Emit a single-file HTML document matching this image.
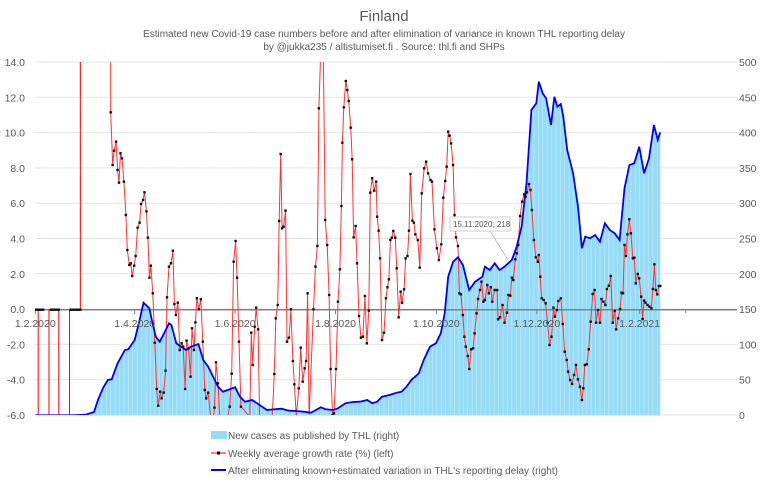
<!DOCTYPE html>
<html><head><meta charset="utf-8"><style>
html,body{margin:0;padding:0;background:#fff;}
body{width:768px;height:483px;overflow:hidden;font-family:"Liberation Sans",sans-serif;}
</style></head><body>
<svg id="s" width="768" height="483" xmlns="http://www.w3.org/2000/svg" font-family="Liberation Sans, sans-serif">
<rect x="0" y="0" width="768" height="483" fill="#fff"/>
<text x="384" y="21" text-anchor="middle" font-size="15" fill="#595959">Finland</text>
<text x="384" y="37" text-anchor="middle" font-size="10" fill="#595959">Estimated new Covid-19 case numbers before and after elimination  of variance in  known THL reporting delay</text>
<text x="384" y="50" text-anchor="middle" font-size="10" fill="#595959">by @jukka235 / altistumiset.fi . Source: thl.fi and SHPs</text>
<g id="grid"></g>
<g id="bars"></g>
<g id="lines"></g>
<g id="labels" font-size="10.5" fill="#595959"></g>
<g font-size="10" fill="#595959">
<rect x="211" y="431" width="16" height="8" fill="#97dcf7"/>
<text x="228" y="439">New cases as published by THL (right)</text>
<line x1="211" y1="453" x2="226" y2="453" stroke="#f00" stroke-width="1"/>
<rect x="217" y="451.5" width="3" height="3" fill="#000"/>
<text x="228" y="457">Weekly average growth rate (%) (left)</text>
<line x1="211" y1="470" x2="226" y2="470" stroke="#00f" stroke-width="2"/>
<text x="228" y="474">After eliminating known+estimated variation in THL's reporting delay (right)</text>
</g>
<line x1="490" y1="231" x2="508" y2="260" stroke="#aaa" stroke-width="0.7"/>
<rect x="450" y="217" width="60" height="14" fill="#fff" stroke="#bbb" stroke-width="0.7"/>
<text x="453" y="227" font-size="8" fill="#595959">15.11.2020;  218</text>
</svg>
<script>
var NS="http://www.w3.org/2000/svg";
function el(p,t,a){var e=document.createElementNS(NS,t);for(var k in a)e.setAttribute(k,a[k]);document.getElementById(p).appendChild(e);return e;}
var sx=768/1568, sy=1/3;
function X(x){return x*sx;} function Y(y){return y*sy;}
for(var i=0;i<=10;i++){var y=62+i*35.3;el("grid","line",{x1:35,x2:737,y1:y,y2:y,stroke:"#e3e3e3","stroke-width":1});}
var L=["14.0","12.0","10.0","8.0","6.0","4.0","2.0","0.0","-2.0","-4.0","-6.0"];
var R=["500","450","400","350","300","250","200","150","100","50","0"];
for(var i=0;i<=10;i++){var y=62+i*35.3+4;
 el("labels","text",{x:25,y:y,"text-anchor":"end"}).textContent=L[i];
 el("labels","text",{x:739,y:y}).textContent=R[i];}
var months=[["1.2.2020",72],["1.4.2020",275],["1.6.2020",480],["1.8.2020",685],["1.10.2020",891],["1.12.2020",1096],["1.2.2021",1306]];
months.forEach(function(m){el("labels","text",{x:X(m[1]),y:327,"text-anchor":"middle"}).textContent=m[0];});
var blue=[[72,1246],[150,1246],[175,1244],[192,1236],[200,1200],[210,1165],[220,1140],[228,1138],[240,1090],[255,1050],[262,1048],[275,1020],[285,960],[293,908],[300,918],[305,925],[310,960],[318,1010],[326,1025],[335,1000],[345,970],[350,975],[360,1030],[370,1040],[380,1050],[390,1040],[405,1032],[415,1080],[425,1100],[435,1130],[445,1160],[455,1175],[465,1170],[480,1162],[490,1190],[500,1205],[515,1200],[530,1215],[545,1230],[560,1228],[575,1226],[590,1232],[605,1233],[620,1235],[635,1238],[645,1230],[655,1222],[665,1228],[680,1230],[690,1225],[705,1210],[720,1206],[735,1205],[750,1200],[760,1210],[770,1205],[780,1190],[795,1185],[810,1178],[820,1175],[830,1160],[840,1140],[855,1120],[865,1080],[878,1040],[890,1030],[900,1000],[908,940],[915,830],[925,785],[935,772],[945,795],[958,870],[970,845],[985,830],[990,800],[1000,810],[1010,790],[1020,810],[1030,800],[1045,780],[1055,740],[1065,680],[1075,550],[1085,330],[1095,310],[1100,245],[1108,280],[1115,295],[1125,375],[1132,290],[1138,320],[1145,312],[1150,350],[1158,450],[1170,520],[1180,620],[1188,745],[1195,710],[1205,715],[1215,705],[1225,725],[1235,670],[1245,690],[1255,700],[1265,720],[1275,565],[1285,495],[1295,490],[1305,440],[1315,520],[1325,475],[1335,375],[1343,420],[1348,397]];
var bp=blue.map(function(p){return X(p[0]).toFixed(1)+","+Y(p[1]).toFixed(1);}).join(" ");
el("bars","polygon",{points:X(72)+","+Y(1246)+" "+bp+" "+X(1348)+","+Y(1246),fill:"#97dcf7"});
for(var x=100;x<1348;x+=9){el("bars","line",{x1:X(x),x2:X(x),y1:62,y2:415,stroke:"#fff","stroke-width":0.5,opacity:0.5});}
el("lines","line",{x1:35,x2:737,y1:309.7,y2:309.7,stroke:"#808080","stroke-width":1.5});
months.forEach(function(m){el("lines","line",{x1:X(m[1]),x2:X(m[1]),y1:309,y2:314,stroke:"#808080"});});
el("lines","line",{x1:X(1400),x2:X(1400),y1:309,y2:313,stroke:"#808080"});
var cp=el("lines","clipPath",{id:"c"});var r=document.createElementNS(NS,"rect");r.setAttribute("x",35);r.setAttribute("y",62);r.setAttribute("width",702);r.setAttribute("height",353);cp.appendChild(r);
var red=[[226,187],[226,337],[230,495],[233,452],[237,425],[240,510],[243,548],[246,460],[249,475],[253,545],[257,645],[260,750],[264,795],[267,790],[270,828],[274,797],[277,768],[281,683],[285,668],[288,612],[292,600],[295,577],[299,634],[302,713],[305,833],[308,797],[312,880],[316,1028],[320,1167],[323,1217],[327,1175],[330,1195],[334,1178],[338,1112],[341,892],[345,800],[349,790],[353,752],[356,912],[359,945],[363,908],[367,1050],[371,1030],[374,1040],[378,1167],[381,1022],[385,1045],[389,1130],[392,985],[396,1050],[399,967],[402,895],[406,928],[410,898],[414,1025],[418,1170],[421,1195],[425,1178],[430,1250],[435,1260],[438,1223],[441,1087],[445,1150],[449,1260],[465,1250],[469,1220],[473,1121],[477,785],[481,723],[484,833],[488,1025],[492,1220],[510,1250],[513,998],[516,1095],[520,980],[523,923],[527,988],[530,1250],[556,1246],[560,1122],[563,955],[567,915],[570,663],[573,462],[576,685],[579,680],[583,632],[586,1025],[590,1013],[594,928],[598,1083],[601,1153],[605,1250],[610,1165],[614,1043],[618,1145],[622,1105],[625,1083],[628,880],[631,1250],[640,928],[644,800],[648,738],[651,325],[655,150],[660,150],[664,660],[668,735],[672,885],[675,1107],[679,1245],[682,1240],[686,1107],[690,905],[694,808],[697,618],[699,428],[702,322],[706,243],[709,270],[712,303],[716,383],[719,478],[722,712],[726,678],[729,790],[733,948],[737,1013],[741,1010],[745,888],[749,1030],[753,932],[756,578],[760,535],[764,572],[768,545],[770,650],[773,692],[776,775],[780,1020],[784,998],[788,895],[791,862],[794,838],[797,720],[800,713],[803,693],[807,713],[810,805],[814,952],[818,875],[821,908],[825,868],[828,775],[832,768],[835,692],[838,522],[842,662],[845,668],[848,703],[853,720],[857,803],[861,580],[866,505],[870,485],[874,520],[879,540],[882,545],[887,688],[892,745],[896,780],[901,733],[905,593],[909,543],[912,500],[915,395],[918,407],[921,430],[925,495],[928,645],[931,712],[935,738],[938,880],[941,883],[945,945],[948,1010],[951,1040],[955,1068],[958,1107],[962,1048],[966,1045],[969,1000],[973,940],[976,897],[980,870],[983,845],[987,905],[990,900],[995,855],[998,880],[1002,862],[1005,905],[1010,870],[1015,870],[1017,958],[1021,952],[1026,915],[1030,968],[1035,938],[1038,885],[1042,887],[1045,833],[1048,840],[1052,778],[1055,760],[1058,735],[1062,648],[1066,605],[1070,583],[1073,590],[1076,577],[1080,552],[1083,570],[1086,630],[1090,720],[1094,772],[1098,785],[1100,765],[1103,830],[1106,895],[1110,900],[1114,910],[1118,968],[1122,1035],[1126,1010],[1130,923],[1133,950],[1137,930],[1140,903],[1145,895],[1149,972],[1153,1055],[1157,1080],[1160,1115],[1164,1140],[1168,1152],[1172,1125],[1176,1095],[1180,1138],[1184,1160],[1188,1200],[1191,1165],[1194,1095],[1198,1093],[1202,1048],[1206,965],[1210,882],[1214,870],[1217,968],[1221,930],[1225,968],[1228,897],[1232,905],[1236,915],[1239,867],[1243,857],[1247,828],[1251,968],[1255,933],[1258,988],[1262,955],[1266,927],[1269,878],[1272,880],[1275,735],[1278,768],[1281,703],[1285,658],[1288,700],[1292,775],[1295,773],[1298,850],[1302,822],[1305,835],[1309,890],[1312,957],[1315,902],[1318,908],[1322,915],[1326,920],[1330,925],[1333,867],[1336,793],[1339,870],[1342,883],[1345,858],[1348,858]];
var g=el("lines","g",{"clip-path":"url(#c)"});
function add(t,a){var e=document.createElementNS(NS,t);for(var k in a)e.setAttribute(k,a[k]);g.appendChild(e);return e;}
[[78,1246],[100,1246],[120,1246],[142,1246],[164,150]].forEach(function(s){add("line",{x1:X(s[0]),x2:X(s[0]),y1:Y(929),y2:Y(s[1]),stroke:"#f00","stroke-width":1});});
add("polyline",{points:red.map(function(p){return X(p[0]).toFixed(1)+","+Y(p[1]).toFixed(1);}).join(" "),fill:"none",stroke:"#f33","stroke-width":1});
add("polyline",{points:bp,fill:"none",stroke:"#00f","stroke-width":1.8});
red.forEach(function(p){if(p[1]>190&&p[1]<1246)add("rect",{x:X(p[0])-1.2,y:Y(p[1])-1.2,width:2.4,height:2.4,fill:"#111"});});
for(var x=72;x<=165;x+=4){if(x<92||(x>100&&x<124)||x>140)add("rect",{x:X(x)-1.2,y:308.5,width:2.4,height:2.4,fill:"#111"});}
</script>
</body></html>
